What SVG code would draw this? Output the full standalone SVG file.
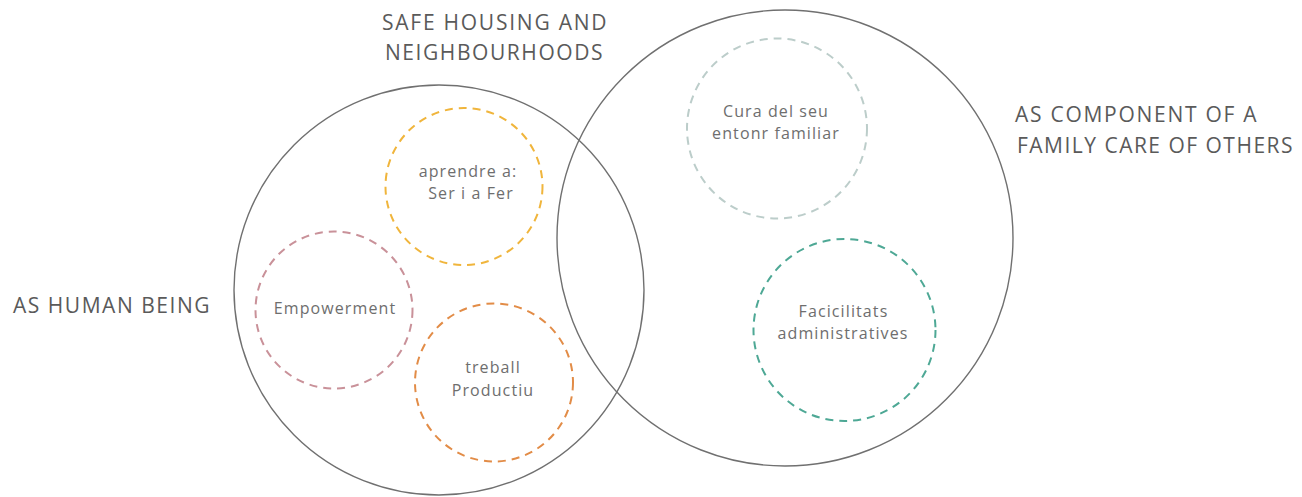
<svg xmlns="http://www.w3.org/2000/svg" width="1302" height="497" viewBox="0 0 1302 497">
<style>
.big{fill:none;stroke:#707070;stroke-width:1.4}
.dash{fill:none;stroke-width:2;stroke-dasharray:8 6}
.lbl{font-family:"Open Sans","Noto Sans","Liberation Sans",sans-serif;font-size:21px;fill:#5a5a5a;letter-spacing:0.5px}
.in{font-family:"Open Sans","Noto Sans","Liberation Sans",sans-serif;font-size:16px;fill:#6e6e6e;text-anchor:middle;letter-spacing:1.1px}
</style>
<rect width="1302" height="497" fill="#ffffff"/>
<g id="human-being">
<circle class="big" cx="439" cy="290" r="205"/>
<text class="lbl" x="13" y="313" textLength="197" lengthAdjust="spacing">AS HUMAN BEING</text>
</g>
<g id="family">
<circle class="big" cx="785" cy="238" r="228"/>
<text class="lbl" x="1015" y="122" textLength="242" lengthAdjust="spacing">AS COMPONENT OF A</text>
<text class="lbl" x="1017" y="153" textLength="276" lengthAdjust="spacing">FAMILY CARE OF OTHERS</text>
</g>
<g id="safe-housing">
<text class="lbl" x="382" y="30" textLength="225" lengthAdjust="spacing">SAFE HOUSING AND</text>
<text class="lbl" x="385" y="60" textLength="218" lengthAdjust="spacing">NEIGHBOURHOODS</text>
</g>
<g id="aprendre">
<circle class="dash" cx="464" cy="186.5" r="78.5" stroke="#f0b53c"/>
<text class="in" x="468" y="176.5">aprendre a:</text>
<text class="in" x="471" y="198.5">Ser i a Fer</text>
</g>
<g id="empowerment">
<circle class="dash" cx="334" cy="310" r="78.5" stroke="#c99199"/>
<text class="in" x="335" y="313.5">Empowerment</text>
</g>
<g id="treball">
<circle class="dash" cx="494" cy="382.5" r="79" stroke="#e28c47"/>
<text class="in" x="493" y="373">treball</text>
<text class="in" x="493" y="396">Productiu</text>
</g>
<g id="cura">
<circle class="dash" cx="777" cy="128.5" r="90" stroke="#bccdca"/>
<text class="in" x="776" y="116.5">Cura del seu</text>
<text class="in" x="776" y="139">entonr familiar</text>
</g>
<g id="facilitats">
<circle class="dash" cx="844.5" cy="330" r="91" stroke="#4ea895"/>
<text class="in" x="843.5" y="316.5">Facicilitats</text>
<text class="in" x="843" y="339">administratives</text>
</g>
<g id="connectors"></g>
</svg>
